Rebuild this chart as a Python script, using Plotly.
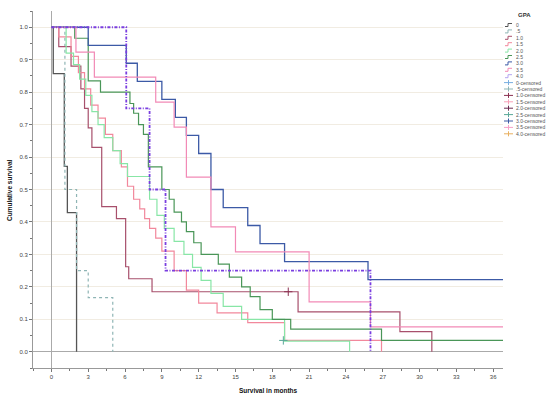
import plotly.graph_objects as go

# ---- data ----
groups = ["0", ".5", "1.0", "1.5", "2.0", "2.5", "3.0", "3.5", "4.0"]

t_0 = [0, 0.15, 1.05, 1.3, 2.05]
s_0 = [1.0, 0.857, 0.571, 0.429, 0.0]

t_05 = [0, 1.1, 2.05, 3.0, 5.0]
s_05 = [1.0, 0.5, 0.25, 0.167, 0.0]

t_10 = [0, 0.6, 1.6, 2.4, 2.7, 3.0, 3.3, 4.1, 5.3, 6.05, 6.3, 8.2, 20.1, 28.4, 31.0]
s_10 = [1.0, 0.94, 0.88, 0.81, 0.75, 0.69, 0.63, 0.447, 0.41, 0.262, 0.225, 0.185, 0.123, 0.062, 0.0]

t_15 = [0, 0.6, 1.6, 2.2, 2.7, 3.2, 3.8, 4.4, 5.0, 5.7, 6.2, 6.7, 7.2, 7.6, 8.0, 8.5, 9.0, 10.0, 11.0, 12.0, 13.5, 16.0, 19.0, 26.9]
s_15 = [1.0, 0.97, 0.91, 0.86, 0.81, 0.76, 0.72, 0.67, 0.62, 0.57, 0.51, 0.47, 0.44, 0.41, 0.38, 0.35, 0.31, 0.25, 0.19, 0.15, 0.12, 0.09, 0.035, 0.0]

t_20 = [0, 1.2, 1.8, 2.3, 2.8, 3.3, 3.8, 4.3, 5.0, 5.6, 6.2, 8.0, 8.6, 9.2, 10.0, 10.8, 11.5, 12.2, 13.0, 14.0, 15.5, 19.0, 24.3]
s_20 = [1.0, 0.92, 0.885, 0.84, 0.79, 0.74, 0.70, 0.66, 0.62, 0.58, 0.54, 0.47, 0.42, 0.38, 0.34, 0.30, 0.26, 0.22, 0.18, 0.14, 0.10, 0.033, 0.0]

t_25 = [0, 1.9, 3.0, 4.0, 6.4, 6.7, 7.1, 7.5, 7.9, 9.0, 9.6, 10.0, 10.6, 11.0, 11.6, 12.2, 13.6, 14.5, 15.5, 16.2, 17.0, 18.0, 19.5, 26.9, 36.8]
s_25 = [1.0, 0.966, 0.835, 0.80, 0.765, 0.735, 0.70, 0.67, 0.57, 0.50, 0.47, 0.43, 0.40, 0.37, 0.336, 0.30, 0.27, 0.23, 0.20, 0.17, 0.13, 0.10, 0.07, 0.035, 0.035]

t_30 = [0, 3.0, 6.1, 7.0, 9.0, 10.1, 11.0, 12.0, 13.0, 14.0, 16.0, 17.0, 19.0, 25.8, 36.8]
s_30 = [1.0, 0.944, 0.889, 0.833, 0.778, 0.722, 0.667, 0.611, 0.5, 0.444, 0.389, 0.333, 0.278, 0.222, 0.222]

t_35 = [0, 2.0, 3.5, 8.5, 10.0, 11.0, 13.0, 15.0, 21.0, 26.0, 36.8]
s_35 = [1.0, 0.923, 0.846, 0.769, 0.692, 0.538, 0.385, 0.308, 0.154, 0.077, 0.077]

t_40 = [0, 6.1, 8.0, 9.3, 26.0]
s_40 = [1.0, 0.75, 0.5, 0.25, 0.0]

cens_t_10 = [19.3]
cens_s_10 = [0.185]
cens_t_20 = [18.9]
cens_s_20 = [0.035]

x_ticks = list(range(0, 37, 3))
y_ticks = [round(i * 0.1, 1) for i in range(11)]

legend_lines = ["0", ".5", "1.0", "1.5", "2.0", "2.5", "3.0", "3.5", "4.0"]
legend_cens = [g + "-censored" for g in groups]

# ---- styles ----
line_col = {"0": "#555555", ".5": "#8fb5b5", "1.0": "#a8506c", "1.5": "#f2889c",
            "2.0": "#88e6a6", "2.5": "#4a9658", "3.0": "#3c5aa6", "3.5": "#f28ab6",
            "4.0": "#7a3ee0"}
leg_line_col = dict(line_col)
leg_line_col["4.0"] = "#b4a4f0"
cens_col = ["#78aee0", "#8fb5b5", "#8a3050", "#f7a0b8", "#6a2a50", "#5aa898",
            "#3c5aa6", "#f7a0c8", "#e8b060"]

series = [("0", t_0, s_0, "solid", 1.3), (".5", t_05, s_05, "dot", 1.2),
          ("1.0", t_10, s_10, "solid", 1.2), ("1.5", t_15, s_15, "solid", 1.2),
          ("2.0", t_20, s_20, "solid", 1.2), ("2.5", t_25, s_25, "solid", 1.2),
          ("3.0", t_30, s_30, "solid", 1.3), ("3.5", t_35, s_35, "solid", 1.2),
          ("4.0", t_40, s_40, "3px,1.5px,1px,1.5px", 1.8)]

fig = go.Figure()
for name, t, s, dash, w in series:
    fig.add_trace(go.Scatter(x=t, y=s, mode="lines", line_shape="hv",
                             line=dict(color=line_col[name], width=w, dash=dash),
                             name=name, showlegend=False, hoverinfo="skip"))

fig.add_trace(go.Scatter(x=cens_t_10, y=cens_s_10, mode="markers",
                         marker=dict(symbol="cross-thin", size=6, line=dict(color="#8a3050", width=1)),
                         showlegend=False, hoverinfo="skip"))
fig.add_trace(go.Scatter(x=cens_t_20, y=cens_s_20, mode="markers",
                         marker=dict(symbol="cross-thin", size=6, line=dict(color="#5aa898", width=1)),
                         showlegend=False, hoverinfo="skip"))

W, H = 550, 398
L, R, T, B = 33, 47, 11, 30
pw, ph = W - L - R, H - T - B

def px(xp):
    return (xp - L) / pw

def py(yp):
    return (H - B - yp) / ph

shapes = []
annos = []
annos.append(dict(x=px(524), y=py(15), xref="paper", yref="paper", text="<b>GPA</b>",
                  showarrow=False, font=dict(size=6, color="#333", family="Liberation Sans"),
                  xanchor="center", yanchor="middle"))
labels = legend_lines + legend_cens
for i, lab in enumerate(labels):
    yy = 25 + i * 6.4
    if i < 9:
        c = leg_line_col[lab]
        shapes.append(dict(type="path", xref="paper", yref="paper",
                           path=f"M {px(505)},{py(yy+1.5)} H {px(508)} V {py(yy-1.5)} H {px(512)}",
                           line=dict(color=c, width=1)))
    else:
        c = cens_col[i - 9]
        shapes.append(dict(type="line", xref="paper", yref="paper", x0=px(504), x1=px(513),
                           y0=py(yy), y1=py(yy), line=dict(color=c, width=1)))
        shapes.append(dict(type="line", xref="paper", yref="paper", x0=px(508.5), x1=px(508.5),
                           y0=py(yy - 2.5), y1=py(yy + 2.5), line=dict(color=c, width=1)))
    annos.append(dict(x=px(514), y=py(yy), xref="paper", yref="paper", text=lab,
                      showarrow=False, font=dict(size=5, color="#555", family="Liberation Sans"),
                      xanchor="left", yanchor="middle"))

# axis titles as annotations for exact placement
annos.append(dict(x=px(268), y=py(390), xref="paper", yref="paper",
                  text="<b>Survival in months</b>", showarrow=False,
                  font=dict(size=6.5, color="#111", family="Liberation Sans"),
                  xanchor="center", yanchor="middle"))
annos.append(dict(x=px(9), y=py(190), xref="paper", yref="paper",
                  text="<b>Cumulative survival</b>", showarrow=False, textangle=-90,
                  font=dict(size=6.5, color="#111", family="Liberation Sans"),
                  xanchor="center", yanchor="middle"))

fig.update_layout(
    width=W, height=H, margin=dict(l=L, r=R, t=T, b=B, autoexpand=False),
    paper_bgcolor="white", plot_bgcolor="white",
    font=dict(family="Liberation Sans", size=6, color="#444"),
    shapes=shapes, annotations=annos, showlegend=False,
    xaxis=dict(range=[-1.5, 36.8], tickvals=x_ticks, ticks="outside", ticklen=3,
               tickcolor="#777", showline=True, linecolor="#999", linewidth=1,
               showgrid=False, zeroline=True, zerolinecolor="#aaaaaa", zerolinewidth=1,
               minor=dict(dtick=1.5, tick0=0, ticks="outside", ticklen=2, tickcolor="#777"),
               tickfont=dict(size=6, color="#444"), automargin=False),
    yaxis=dict(range=[-0.05, 1.05], tickvals=y_ticks, tickformat=".1f", ticks="outside",
               ticklen=3, tickcolor="#777", showline=True, linecolor="#999", linewidth=1,
               showgrid=True, gridcolor="#f1ece2", gridwidth=1,
               zeroline=True, zerolinecolor="#aaaaaa", zerolinewidth=1,
               minor=dict(dtick=0.05, tick0=0, ticks="outside", ticklen=2, tickcolor="#777"),
               tickfont=dict(size=6, color="#444"), automargin=False),
)

fig.write_html("out.html", config={"displayModeBar": False},
               post_script="document.body.style.margin='0';")
